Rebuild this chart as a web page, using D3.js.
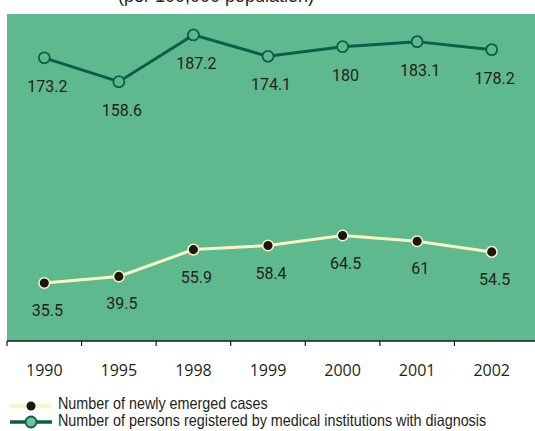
<!DOCTYPE html>
<html><head><meta charset="utf-8">
<script src="https://cdn.jsdelivr.net/npm/d3@7"></script>
<style>body{margin:0;background:#fff}svg{display:block}</style>
</head><body>
<svg id="c" width="535" height="431"></svg>
<script>
const years = ["1990","1995","1998","1999","2000","2001","2002"];
const newCases = [35.5, 39.5, 55.9, 58.4, 64.5, 61, 54.5];
const registered = [173.2, 158.6, 187.2, 174.1, 180, 183.1, 178.2];
const seriesNames = ["Number of newly emerged cases", "Number of persons registered by medical institutions with diagnosis"];
const title = "(per 100,000 population)";

const svg = d3.select("#c");
const W = 535, plotLeft = 7, plotTop = 14, plotBottom = 341, bandRight = 529;
const bg = "#5fb98e", dark = "#0b5f4a", cream = "#fbf4c2", dot = "#1c1512";

const x = d3.scaleBand().domain(years).range([plotLeft, bandRight]).padding(0);
const y = d3.scaleLinear().domain([0, 200]).range([plotBottom, plotTop]);
const cx = d => x(d) + x.bandwidth() / 2;

svg.append("text").attr("x", 216).attr("y", 2).attr("text-anchor", "middle")
  .attr("font-family", "Liberation Sans, Arial, sans-serif").attr("font-size", 18)
  .attr("fill", "#231f20").text(title);

svg.append("rect").attr("x", plotLeft).attr("y", plotTop).attr("width", W - plotLeft).attr("height", plotBottom - plotTop).attr("fill", bg);

// axis
const axis = d3.axisBottom(x).tickSize(0).tickFormat(d => d);
const ag = svg.append("g").attr("transform", `translate(0,${plotBottom})`).call(axis);
ag.select(".domain").remove();
ag.selectAll("text").attr("font-family", "Open Sans, sans-serif").attr("font-size", 16).attr("fill", "#231f20").attr("dy", null).attr("y", 35);
svg.append("line").attr("x1", plotLeft).attr("x2", W).attr("y1", plotBottom).attr("y2", plotBottom).attr("stroke", "#1a1a1a").attr("stroke-width", 1.5);
svg.append("g").selectAll("line").data(years).join("line")
  .attr("x1", d => x(d)).attr("x2", d => x(d)).attr("y1", plotBottom).attr("y2", plotBottom + 5)
  .attr("stroke", "#1a1a1a").attr("stroke-width", 1.2);

const line = d3.line().x((d, i) => cx(years[i])).y(d => y(d));

// registered series
svg.append("path").datum(registered).attr("d", line).attr("fill", "none").attr("stroke", dark).attr("stroke-width", 3);
svg.append("g").selectAll("circle").data(registered).join("circle")
  .attr("cx", (d, i) => cx(years[i])).attr("cy", d => y(d)).attr("r", 5.5)
  .attr("fill", bg).attr("stroke", dark).attr("stroke-width", 1.8);
svg.append("g").selectAll("text").data(registered).join("text")
  .attr("x", (d, i) => cx(years[i]) + 3).attr("y", d => y(d) + 34).attr("text-anchor", "middle")
  .attr("font-family", "Roboto, sans-serif").attr("font-size", 16).attr("fill", "#231f20").text(d => d);

// new cases series
svg.append("path").datum(newCases).attr("d", line).attr("fill", "none").attr("stroke", cream).attr("stroke-width", 3);
svg.append("g").selectAll("circle").data(newCases).join("circle")
  .attr("cx", (d, i) => cx(years[i])).attr("cy", d => y(d)).attr("r", 5.3)
  .attr("fill", dot).attr("stroke", cream).attr("stroke-width", 1.5);
svg.append("g").selectAll("text").data(newCases).join("text")
  .attr("x", (d, i) => cx(years[i]) + 3).attr("y", d => y(d) + 33).attr("text-anchor", "middle")
  .attr("font-family", "Roboto, sans-serif").attr("font-size", 16).attr("fill", "#231f20").text(d => d);

// legend
const lg = svg.append("g");
lg.append("line").attr("x1", 10).attr("x2", 52).attr("y1", 406).attr("y2", 406).attr("stroke", cream).attr("stroke-width", 3.5);
lg.append("circle").attr("cx", 31).attr("cy", 406).attr("r", 4.5).attr("fill", dot);
lg.append("line").attr("x1", 10).attr("x2", 52).attr("y1", 422).attr("y2", 422).attr("stroke", dark).attr("stroke-width", 3.5);
lg.append("circle").attr("cx", 31).attr("cy", 422).attr("r", 5.5).attr("fill", "#6cc49b").attr("stroke", dark).attr("stroke-width", 1.8);
const narrow = 0.87;
lg.append("g").attr("transform", `translate(58,0) scale(${narrow},1)`)
  .selectAll("text").data(seriesNames).join("text")
  .attr("x", 0).attr("y", (d, i) => 409 + i * 17)
  .attr("font-family", "Liberation Sans, Arial, sans-serif").attr("font-size", 16.5)
  .attr("fill", "#231f20").text(d => d);
</script>
</body></html>
